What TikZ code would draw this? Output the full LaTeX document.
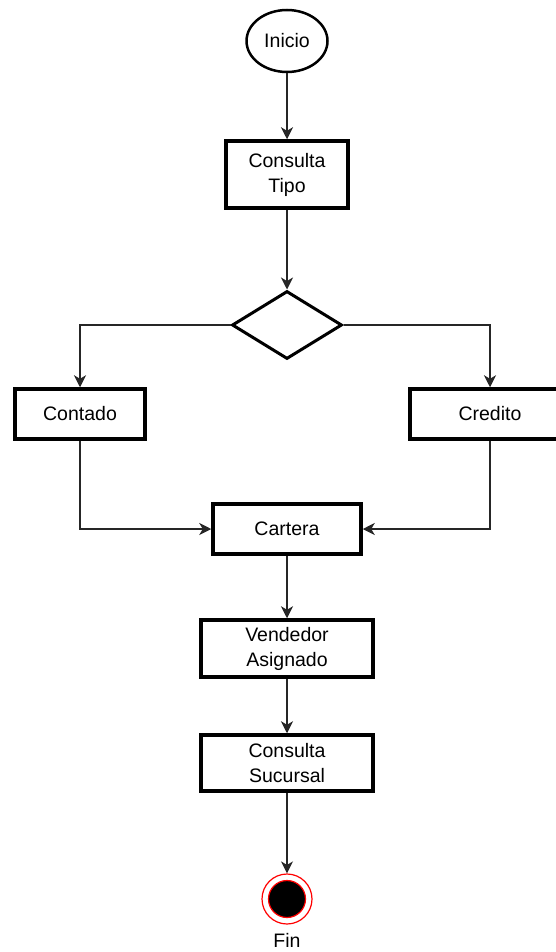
\documentclass[tikz,border=0pt]{standalone}
\usepackage{fontspec}
\setmainfont{Liberation Sans}
\usetikzlibrary{shapes.geometric,arrows.meta,positioning}

\tikzset{
  every node/.style={font=\fontsize{19.5}{25}\selectfont, text=black},
  stepbox/.style={draw=black, line width=3.5pt, fill=white, inner sep=0pt, align=center},
  startnode/.style={draw=black, ellipse, line width=2.5pt, inner sep=0pt,
                    minimum width=81pt, minimum height=62pt},
  decision/.style={draw=black, diamond, line width=3pt, inner sep=0pt,
                   minimum width=110pt, minimum height=68pt},
  flow/.style={draw=black!85, line width=1.4pt,
               -{Stealth[length=12pt, width=12pt, inset=3.5pt]}},
}

\begin{document}
\begin{tikzpicture}[x=1pt, y=-1pt]
  \useasboundingbox (0,0) rectangle (556,952);
  \clip (0,0) rectangle (556,952);

  % start
  \node[startnode] (inicio) at (287,41) {Inicio};

  % process steps (main column at x = 287)
  \node[stepbox, minimum width=122pt, minimum height=67pt] (tipo) at (287,174.5) {Consulta\\Tipo};
  \node[decision] (dec) at (287,325) {};
  \node[stepbox, minimum width=130pt, minimum height=50pt] (contado) at (80,414) {Contado};
  \node[stepbox, minimum width=160pt, minimum height=50pt] (credito) at (490,414) {Credito};
  \node[stepbox, minimum width=148pt, minimum height=50pt] (cartera) at (287,529) {Cartera};
  \node[stepbox, minimum width=172pt, minimum height=57pt] (vendedor) at (287,648.5) {Vendedor\\Asignado};
  \node[stepbox, minimum width=172pt, minimum height=56pt] (sucursal) at (287,763) {Consulta\\Sucursal};

  % end state
  \node[circle, draw=red, line width=1.2pt, fill=white, minimum size=50pt, inner sep=0pt] (fin) at (287,899) {};
  \node[circle, draw=red, line width=1.2pt, fill=black, minimum size=37pt, inner sep=0pt] (finin) at (fin.center) {};
  \node (finlabel) at (287,940) {Fin};

  % connectors
  \draw[flow] (inicio.south) -- (tipo.north);
  \draw[flow] (tipo.south) -- (dec.north);
  \draw[flow] (dec.west) -| (contado.north);
  \draw[flow] (dec.east) -| (credito.north);
  \draw[flow] (contado.south) |- (cartera.west);
  \draw[flow] (credito.south) |- (cartera.east);
  \draw[flow] (cartera.south) -- (vendedor.north);
  \draw[flow] (vendedor.south) -- (sucursal.north);
  \draw[flow] (sucursal.south) -- (fin.north);
\end{tikzpicture}
\end{document}
